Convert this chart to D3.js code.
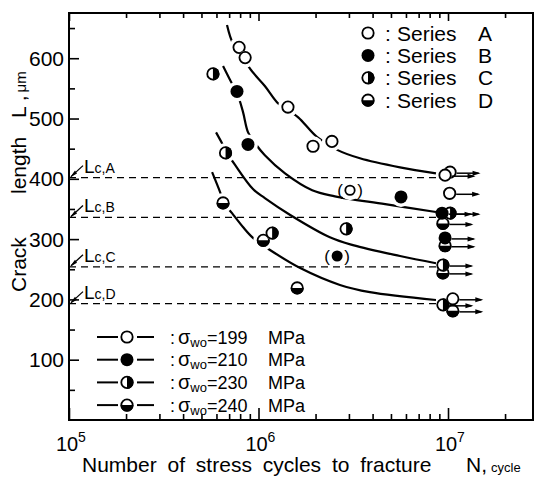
<!DOCTYPE html>
<html>
<head>
<meta charset="utf-8">
<script src="https://cdnjs.cloudflare.com/ajax/libs/d3/7.8.5/d3.min.js"></script>
<style>
  body { margin: 0; background: #fff; }
  text { font-family: "Liberation Sans", Arial, sans-serif; fill: #000; }
</style>
</head>
<body>
<svg id="chart" width="535" height="477"></svg>
<script>
// data: [N cycles, crack length um]
var seriesA = [[7.9e5, 618], [8.5e5, 601], [1.43e6, 519], [1.94e6, 454], [2.44e6, 462]];
var seriesB = [[7.7e5, 545], [8.8e5, 457], [5.65e6, 370]];
var seriesC = [[5.75e5, 574], [6.7e5, 443], [1.18e6, 310], [2.9e6, 317]];
var seriesD = [[6.5e5, 360], [1.06e6, 298], [1.6e6, 219]];

// run-outs (unbroken, arrows)
var runoutA = [[1.025e7, 411], [9.65e6, 406], [1.02e7, 376], [1.06e7, 201]];
var runoutB = [[9.3e6, 343], [9.65e6, 302]];
var runoutC = [[1.025e7, 343], [9.4e6, 257], [9.4e6, 191]];
var runoutD = [[9.4e6, 326], [9.65e6, 289], [9.4e6, 244], [1.06e7, 181]];

// bracketed points
var bracketA = [[3.04e6, 381]];
var bracketB = [[2.6e6, 272]];

// fitted curves
var curveA = [[6.82e5, 655], [7.33e5, 625], [7.98e5, 613], [9.0e5, 583], [1.08e6, 554], [1.27e6, 525],
  [1.43e6, 514], [1.62e6, 502], [2.04e6, 469], [2.6e6, 448], [3.43e6, 434], [5.58e6, 419], [8.64e6, 409]];
var curveB = [[6.5e5, 587], [7.08e5, 564], [7.71e5, 542], [8.28e5, 511], [8.81e5, 477], [9.59e5, 459],
  [1.08e6, 439], [1.38e6, 409], [1.92e6, 381], [2.53e6, 371], [4.66e6, 358], [8.64e6, 345]];
var curveC = [[5.97e5, 477], [6.42e5, 459], [6.82e5, 443], [7.52e5, 423], [9.35e5, 383], [1.08e6, 368],
  [1.47e6, 340], [2.38e6, 303], [3.15e6, 290], [5.58e6, 272], [8.64e6, 260]];
var curveD = [[5.69e5, 411], [6.27e5, 378], [6.58e5, 360], [7.25e5, 343], [8.28e5, 320], [9.35e5, 302],
  [1.15e6, 282], [1.66e6, 252], [2.69e6, 224], [3.87e6, 212], [8.64e6, 199]];

// critical crack lengths
var lcNames = ["A", "B", "C", "D"];
var lcValues = [402, 336, 254, 193];

// legends
var seriesNames = ["A", "B", "C", "D"];
var stressLabels = ["199", "210", "230", "240"];

// ticks
var yMajor = [100, 200, 300, 400, 500, 600];
var yMinor = [50, 150, 250, 350, 450, 550, 650];
var xMajor = [1e5, 1e6, 1e7];
var xMinor = [2e5, 3e5, 4e5, 5e5, 6e5, 7e5, 8e5, 9e5, 2e6, 3e6, 4e6, 5e6, 6e6, 7e6, 8e6, 9e6, 2e7];

var plotL = 69, plotR = 533, plotT = 13, plotB = 420;

var svg = d3.select("#chart");

var x = d3.scaleLog()
  .domain([1e5, Math.pow(10, 7.4485)])
  .range([plotL, plotR]);
var y = d3.scaleLinear()
  .domain([0, 675])
  .range([plotB, plotT]);

// ticks (inward) on all sides
function tickAxis(axis, vals, size, tr) {
  var g = svg.append("g")
    .attr("transform", tr)
    .call(axis.tickValues(vals).tickSize(size).tickSizeOuter(0).tickFormat(""));
  g.select(".domain").remove();
  g.selectAll("line").attr("stroke", "#000").attr("stroke-width", 1.6);
}
tickAxis(d3.axisBottom(x), xMajor, -12, "translate(0," + plotB + ")");
tickAxis(d3.axisBottom(x), xMinor, -6, "translate(0," + plotB + ")");
tickAxis(d3.axisTop(x), xMajor, -8, "translate(0," + plotT + ")");
tickAxis(d3.axisTop(x), xMinor, -5, "translate(0," + plotT + ")");
tickAxis(d3.axisLeft(y), yMajor, -10, "translate(" + plotL + ",0)");
tickAxis(d3.axisLeft(y), yMinor, -6, "translate(" + plotL + ",0)");

// frame
svg.append("rect")
  .attr("x", plotL).attr("y", plotT)
  .attr("width", plotR - plotL).attr("height", plotB - plotT)
  .attr("fill", "none").attr("stroke", "#000").attr("stroke-width", 2);

// y tick labels
svg.selectAll(".ylab")
  .data(yMajor)
  .enter()
  .append("text")
  .attr("x", plotL - 5)
  .attr("y", function (d) { return y(d) + 7.5; })
  .attr("text-anchor", "end")
  .style("font-size", "21px")
  .text(function (d) { return d; });

// x tick labels 10^n
var xl = svg.selectAll(".xlab")
  .data(xMajor)
  .enter()
  .append("g");
xl.append("text")
  .attr("x", function (d) { return x(d) - 2; })
  .attr("y", 451)
  .attr("text-anchor", "middle")
  .style("font-size", "20px")
  .text("10");
xl.append("text")
  .attr("x", function (d) { return x(d) + 9; })
  .attr("y", 442)
  .style("font-size", "14px")
  .text(function (d) { return Math.round(Math.log10(d)); });

// axis titles
var xt = svg.append("text")
  .attr("x", 82).attr("y", 472)
  .style("font-size", "21px")
  .style("word-spacing", "5px");
xt.append("tspan").text("Number of stress cycles to fracture");
xt.append("tspan").attr("x", 466).text("N,");
xt.append("tspan").attr("dx", 4).style("font-size", "13px").text("cycle");

var yt = svg.append("text")
  .attr("transform", "rotate(-90)")
  .attr("y", 26)
  .style("font-size", "21px");
yt.append("tspan").attr("x", -292).text("Crack");
yt.append("tspan").attr("x", -194).text("length");
yt.append("tspan").attr("x", -118).text("L ,");
yt.append("tspan").attr("dx", 3).style("font-size", "15px").text("\u03bcm");

// critical lengths
svg.selectAll(".lc")
  .data(lcValues)
  .enter()
  .append("line")
  .attr("x1", plotL).attr("x2", x(9e6))
  .attr("y1", function (d) { return y(d); })
  .attr("y2", function (d) { return y(d); })
  .attr("stroke", "#000").attr("stroke-width", 1.3)
  .attr("stroke-dasharray", "7,5");

lcValues.forEach(function (v, i) {
  var yy = y(v);
  svg.append("path")
    .attr("d", "M" + (plotL + 2) + "," + (yy - 1) + "L" + (plotL + 14) + "," + (yy - 12))
    .attr("stroke", "#000").attr("stroke-width", 1.3).attr("fill", "none");
  svg.append("path")
    .attr("d", "M" + (plotL + 1) + "," + yy + "l5,-7l2,3z")
    .attr("fill", "#000");
  var t = svg.append("text")
    .attr("x", plotL + 15).attr("y", yy - 5)
    .style("font-size", "19px")
    .text("L");
  t.append("tspan").style("font-size", "14px").text("c," + lcNames[i]);
});

// curves
var line = d3.line()
  .x(function (d) { return x(d[0]); })
  .y(function (d) { return y(d[1]); })
  .curve(d3.curveCatmullRom.alpha(0.5));

svg.selectAll(".curve")
  .data([curveA, curveB, curveC, curveD])
  .enter()
  .append("path")
  .attr("d", line)
  .attr("fill", "none")
  .attr("stroke", "#000")
  .attr("stroke-width", 2.2);

// symbol drawing
var R = 6.5;
function symbol(g, kind, cx, cy, r) {
  if (kind === "B") {
    g.append("circle").attr("cx", cx).attr("cy", cy).attr("r", r).attr("fill", "#000");
    return;
  }
  g.append("circle").attr("cx", cx).attr("cy", cy).attr("r", r).attr("fill", "#fff");
  if (kind === "C") {
    g.append("path")
      .attr("d", "M" + cx + "," + (cy - r) + "A" + r + "," + r + " 0 0 1 " + cx + "," + (cy + r) + "Z")
      .attr("fill", "#000");
  } else if (kind === "D") {
    g.append("path")
      .attr("d", "M" + (cx - r) + "," + cy + "A" + r + "," + r + " 0 0 0 " + (cx + r) + "," + cy + "Z")
      .attr("fill", "#000");
  }
  g.append("circle").attr("cx", cx).attr("cy", cy).attr("r", r - 0.8)
    .attr("fill", "none").attr("stroke", "#000").attr("stroke-width", 1.8);
}

var groups = [
  { kind: "D", pts: seriesD, run: runoutD, br: [] },
  { kind: "A", pts: seriesA, run: runoutA, br: bracketA },
  { kind: "C", pts: seriesC, run: runoutC, br: [] },
  { kind: "B", pts: seriesB, run: runoutB, br: bracketB }
];

// white gaps in the curves around the points
var halo = svg.append("g");
groups.forEach(function (s) {
  s.pts.concat(s.br).forEach(function (p) {
    halo.append("circle").attr("cx", x(p[0])).attr("cy", y(p[1])).attr("r", R + 3.5).attr("fill", "#fff");
  });
});

var marks = svg.append("g");
groups.forEach(function (s) {
  s.pts.forEach(function (p) { symbol(marks, s.kind, x(p[0]), y(p[1]), R); });
  s.br.forEach(function (p) {
    symbol(marks, s.kind, x(p[0]), y(p[1]), R - 1);
    marks.append("text").attr("x", x(p[0]) - 10).attr("y", y(p[1]) + 6)
      .attr("text-anchor", "middle").style("font-size", "17px").text("(");
    marks.append("text").attr("x", x(p[0]) + 10).attr("y", y(p[1]) + 6)
      .attr("text-anchor", "middle").style("font-size", "17px").text(")");
  });
});

// run-outs with arrows
var arrows = svg.append("g");
groups.forEach(function (s) {
  s.run.forEach(function (p) {
    var cx = x(p[0]), cy = y(p[1]);
    arrows.append("line")
      .attr("x1", cx + R).attr("x2", cx + R + 22)
      .attr("y1", cy + 1).attr("y2", cy + 1)
      .attr("stroke", "#000").attr("stroke-width", 1.5);
    arrows.append("path")
      .attr("d", "M" + (cx + R + 24) + "," + (cy + 1) + "l-8,-2.5l0,5z")
      .attr("fill", "#000");
  });
});
groups.forEach(function (s) {
  s.run.forEach(function (p) { symbol(marks, s.kind, x(p[0]), y(p[1]), R); });
});

// legend: series
var lg = svg.append("g");
seriesNames.forEach(function (n, i) {
  var cy = 33 + i * 22.4;
  symbol(lg, n, 368, cy, R);
  var t = lg.append("text").attr("y", cy + 7.5).style("font-size", "21px");
  t.append("tspan").attr("x", 385).text(":");
  t.append("tspan").attr("x", 397).text("Series");
  t.append("tspan").attr("x", 478).text(n);
});

// legend: stress amplitude
var lg2 = svg.append("g");
seriesNames.forEach(function (n, i) {
  var cy = 337 + i * 22.7;
  lg2.append("line").attr("x1", 97).attr("x2", 118).attr("y1", cy).attr("y2", cy)
    .attr("stroke", "#000").attr("stroke-width", 2);
  lg2.append("line").attr("x1", 137).attr("x2", 154).attr("y1", cy).attr("y2", cy)
    .attr("stroke", "#000").attr("stroke-width", 2);
  symbol(lg2, n, 127, cy, R);
  var t = lg2.append("text").attr("y", cy + 6.5).style("font-size", "18px");
  t.append("tspan").attr("x", 170).text(":");
  t.append("tspan").attr("x", 178).style("font-size", "20px").text("\u03c3");
  t.append("tspan").attr("dy", 3).style("font-size", "13px").text("wo");
  t.append("tspan").attr("dy", -3).text("=" + stressLabels[i]);
  t.append("tspan").attr("x", 268).text("MPa");
});
</script>
</body>
</html>
